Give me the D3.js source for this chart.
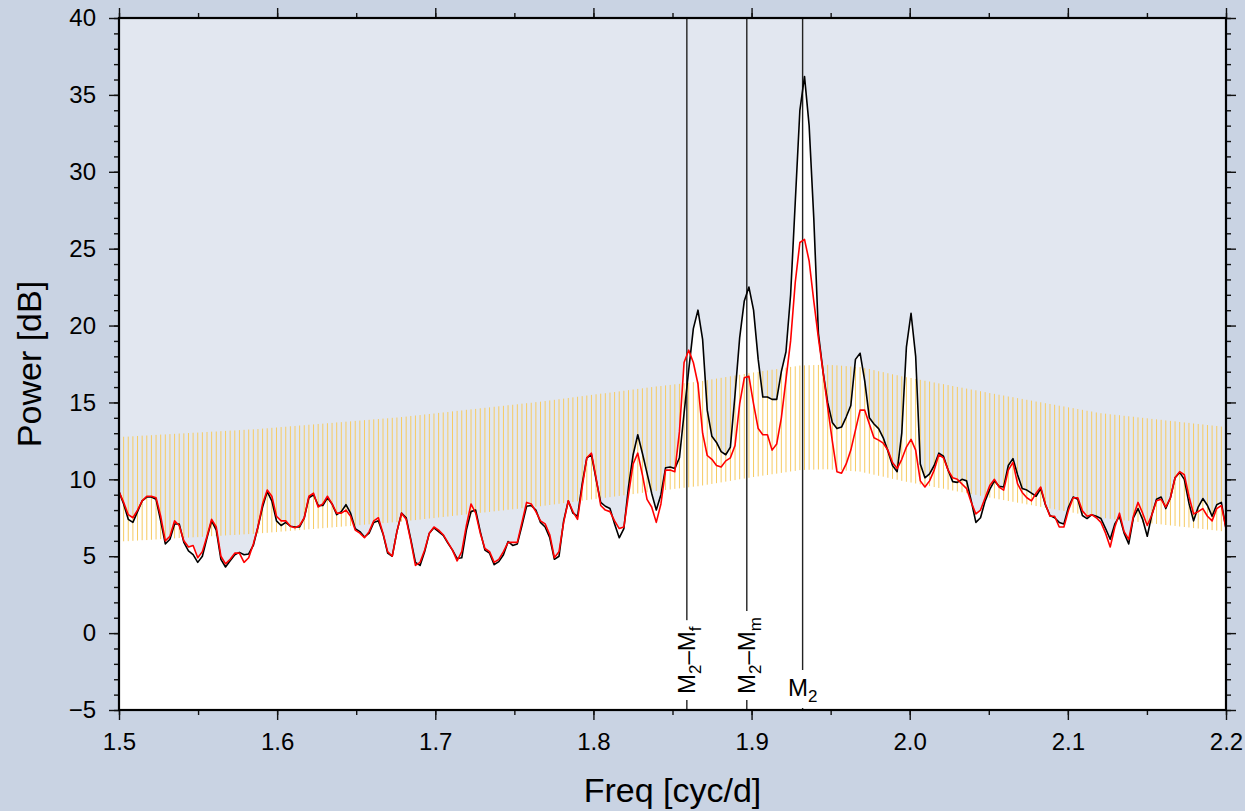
<!DOCTYPE html>
<html><head><meta charset="utf-8">
<script src="https://cdn.jsdelivr.net/npm/d3@7"></script>
<style>
html,body{margin:0;padding:0;background:#c9d3e3;}
svg{display:block;font-family:"Liberation Sans",Arial,Helvetica,sans-serif;}
</style>
</head><body>
<svg id="chart" width="1245" height="811"></svg>
<script>
// ---------------- data ----------------
const freqStart = 1.5, freqEnd = 2.2;   // frequency grid (cyc/d), evenly spaced samples
const powerBlack = [
9.2,8.4,7.4,7.2,7.9,8.6,8.85,8.85,8.7,7.3,
5.8,6.1,7.1,7.1,5.9,5.35,5.1,4.6,5.0,6.2,
7.3,6.7,4.8,4.3,4.7,5.1,5.25,5.1,5.15,5.7,
6.9,8.2,9.2,8.6,7.3,7.0,7.2,6.95,6.9,6.9,
7.5,8.8,9.0,8.3,8.3,8.8,8.4,7.7,7.9,8.35,
7.8,6.8,6.6,6.25,6.5,7.2,7.3,6.45,5.2,5.0,
6.6,7.8,7.5,6.1,4.6,4.4,5.3,6.5,6.85,6.6,
6.35,5.85,5.4,4.85,4.9,6.7,7.9,8.0,6.6,5.4,
5.2,4.45,4.65,5.1,5.95,5.7,5.8,7.0,8.25,8.3,
8.0,7.2,6.9,6.2,4.8,5.0,7.3,8.6,7.8,7.6,
9.7,11.4,11.6,10.0,8.5,8.25,8.1,7.1,6.2,6.8,
9.5,11.6,12.9,11.7,10.4,9.1,8.0,9.0,10.75,10.8,
10.7,11.4,14.3,17.1,19.8,21.0,19.1,14.5,12.8,12.4,
11.8,11.6,12.1,15.5,19.2,21.6,22.5,21.0,17.8,15.35,
15.35,15.2,15.2,17.0,18.3,22.0,28.0,34.0,36.2,33.0,
27.0,19.5,17.0,15.0,13.7,13.3,13.4,14.05,14.8,17.8,
18.2,16.4,14.0,13.6,13.3,12.7,11.85,10.9,10.5,13.0,
18.6,20.8,18.0,11.0,10.1,10.35,10.9,11.7,11.5,10.6,
9.85,9.8,10.0,9.9,8.6,7.2,7.5,8.6,9.35,9.9,
9.55,9.5,10.9,11.35,10.3,9.4,9.3,9.1,8.9,9.4,
8.35,7.65,7.5,7.2,7.1,8.2,8.85,8.7,7.65,7.45,
7.7,7.6,7.45,6.8,6.1,7.1,7.6,6.5,5.8,7.5,
8.1,7.4,6.3,7.7,8.7,8.85,8.1,8.8,10.1,10.45,
10.0,8.45,7.3,8.2,8.75,8.3,7.6,8.35,8.5,6.8
];
const powerRed = [
9.2,8.5,7.7,7.5,8.0,8.6,8.9,8.9,8.8,7.6,
6.0,6.3,7.3,7.0,6.0,5.6,5.7,4.9,5.3,6.3,
7.4,6.9,5.0,4.5,4.8,5.2,5.2,4.6,4.9,5.8,
6.9,8.4,9.3,8.9,7.6,7.3,7.3,6.95,6.85,7.0,
7.5,8.9,9.1,8.2,8.4,8.9,8.4,7.8,7.8,8.0,
7.6,6.7,6.5,6.2,6.6,7.3,7.5,6.5,5.3,5.0,
6.6,7.8,7.4,6.0,4.4,4.6,5.4,6.5,6.9,6.7,
6.4,5.9,5.4,4.7,5.3,7.0,8.4,7.8,6.5,5.5,
5.3,4.6,4.8,5.3,5.9,5.9,5.9,7.2,8.5,8.4,
7.9,7.3,7.1,6.4,4.9,5.3,7.2,8.6,7.9,7.4,
9.5,11.4,11.7,10.1,8.3,8.0,7.9,7.3,6.8,6.9,
9.0,11.0,11.7,10.3,8.7,8.2,7.2,8.4,10.6,10.6,
10.5,13.1,17.6,18.4,17.6,16.2,13.0,11.55,11.3,10.9,
10.8,11.2,11.4,12.2,14.9,16.6,16.7,14.9,13.3,12.9,
12.9,11.9,12.3,14.0,16.5,19.0,22.8,25.4,25.6,24.2,
21.6,19.2,17.0,14.7,12.5,10.5,10.4,11.0,11.9,13.2,
14.5,14.5,13.6,12.7,12.55,12.35,11.9,11.1,10.7,11.3,
12.1,12.6,11.9,9.9,9.5,9.9,10.6,11.6,11.4,10.6,
10.1,10.0,9.7,9.4,8.5,7.75,8.0,8.8,9.6,10.0,
9.5,9.3,10.6,11.1,9.7,9.15,8.8,8.6,9.1,9.5,
8.4,7.6,7.6,6.9,6.9,8.0,8.8,8.8,7.95,7.6,
7.7,7.5,7.2,6.5,5.6,6.9,7.8,6.6,6.1,7.6,
8.5,7.8,7.0,7.7,8.6,8.7,8.2,8.8,10.1,10.5,
10.3,8.9,7.75,7.9,8.1,7.6,7.3,8.1,8.3,6.8
];
const bandUpper = [
12.75,12.77,12.78,12.80,12.82,12.84,12.85,12.87,12.89,12.91,
12.92,12.94,12.96,12.98,12.99,13.01,13.03,13.04,13.06,13.08,
13.10,13.11,13.13,13.15,13.17,13.18,13.20,13.22,13.24,13.25,
13.27,13.30,13.32,13.35,13.37,13.40,13.42,13.45,13.47,13.50,
13.52,13.55,13.57,13.60,13.62,13.65,13.67,13.70,13.72,13.75,
13.77,13.80,13.82,13.85,13.87,13.90,13.92,13.95,13.97,14.00,
14.02,14.05,14.08,14.12,14.15,14.18,14.22,14.25,14.28,14.32,
14.35,14.38,14.42,14.45,14.48,14.52,14.55,14.58,14.62,14.65,
14.68,14.72,14.75,14.78,14.82,14.85,14.88,14.92,14.95,14.98,
15.02,15.05,15.09,15.13,15.17,15.21,15.25,15.29,15.33,15.37,
15.41,15.45,15.49,15.53,15.57,15.60,15.64,15.68,15.72,15.76,
15.80,15.84,15.88,15.92,15.96,16.00,16.04,16.07,16.11,16.14,
16.18,16.21,16.25,16.28,16.32,16.35,16.40,16.45,16.50,16.55,
16.60,16.65,16.70,16.75,16.80,16.85,16.90,16.95,16.99,17.04,
17.08,17.13,17.17,17.22,17.26,17.31,17.35,17.40,17.41,17.42,
17.43,17.44,17.45,17.45,17.43,17.41,17.39,17.36,17.34,17.32,
17.30,17.23,17.17,17.10,17.03,16.97,16.90,16.83,16.77,16.70,
16.64,16.59,16.53,16.47,16.41,16.36,16.30,16.24,16.19,16.13,
16.07,16.01,15.96,15.90,15.84,15.79,15.73,15.67,15.61,15.56,
15.50,15.45,15.39,15.34,15.28,15.23,15.17,15.12,15.06,15.01,
14.95,14.90,14.85,14.79,14.74,14.68,14.63,14.57,14.52,14.46,
14.41,14.35,14.30,14.27,14.23,14.20,14.17,14.13,14.10,14.07,
14.03,14.00,13.97,13.93,13.90,13.87,13.83,13.80,13.77,13.73,
13.70,13.67,13.63,13.60,13.57,13.53,13.50,13.47,13.43,13.40
];
const bandLower = [
5.95,5.97,5.98,6.00,6.02,6.04,6.05,6.07,6.09,6.11,
6.12,6.14,6.16,6.18,6.19,6.21,6.23,6.24,6.26,6.28,
6.30,6.31,6.33,6.35,6.37,6.38,6.40,6.42,6.44,6.45,
6.47,6.50,6.52,6.55,6.57,6.60,6.62,6.65,6.67,6.70,
6.72,6.75,6.77,6.80,6.82,6.85,6.87,6.90,6.92,6.95,
6.97,7.00,7.02,7.05,7.07,7.10,7.12,7.15,7.17,7.20,
7.22,7.25,7.28,7.32,7.35,7.38,7.42,7.45,7.48,7.52,
7.55,7.58,7.62,7.65,7.68,7.72,7.75,7.78,7.82,7.85,
7.88,7.92,7.95,7.98,8.02,8.05,8.08,8.12,8.15,8.18,
8.22,8.25,8.29,8.33,8.37,8.41,8.45,8.49,8.53,8.57,
8.61,8.65,8.69,8.73,8.77,8.80,8.84,8.88,8.92,8.96,
9.00,9.04,9.08,9.12,9.16,9.20,9.24,9.27,9.31,9.34,
9.38,9.41,9.45,9.48,9.52,9.55,9.60,9.65,9.70,9.75,
9.80,9.85,9.90,9.95,10.00,10.05,10.10,10.15,10.19,10.24,
10.28,10.33,10.37,10.42,10.46,10.51,10.55,10.60,10.61,10.62,
10.63,10.64,10.65,10.65,10.63,10.61,10.59,10.56,10.54,10.52,
10.50,10.43,10.37,10.30,10.23,10.17,10.10,10.03,9.97,9.90,
9.84,9.79,9.73,9.67,9.61,9.56,9.50,9.44,9.39,9.33,
9.27,9.21,9.16,9.10,9.04,8.99,8.93,8.87,8.81,8.76,
8.70,8.65,8.59,8.54,8.48,8.43,8.37,8.32,8.26,8.21,
8.15,8.10,8.05,7.99,7.94,7.88,7.83,7.77,7.72,7.66,
7.61,7.55,7.50,7.47,7.43,7.40,7.37,7.33,7.30,7.27,
7.23,7.20,7.17,7.13,7.10,7.07,7.03,7.00,6.97,6.93,
6.90,6.87,6.83,6.80,6.77,6.73,6.70,6.67,6.63,6.60
];
const xTickValues = [1.5,1.6,1.7,1.8,1.9,2.0,2.1,2.2];
const xTickLabels = ["1.5","1.6","1.7","1.8","1.9","2.0","2.1","2.2"];
const yTickValues = [-5,0,5,10,15,20,25,30,35,40];
const tideFreqs = [1.8590714, 1.8969820, 1.9322736];        // M2-Mf, M2-Mm, M2
const tideLabels = [
  [["M",0],["2",1],["\u2013M",0],["f",1]],
  [["M",0],["2",1],["\u2013M",0],["m",1]],
  [["M",0],["2",1]]
];
const tideRotated = [true, true, false];
const xTitle = "Freq [cyc/d]";
const yTitle = "Power [dB]";

// ---------------- layout ----------------
const W = 1245, H = 811;
const m = {left:119, right:1226, top:18, bottom:710};
const svg = d3.select("#chart");
const n = powerBlack.length;
const freqs = d3.range(n).map(i => freqStart + i*(freqEnd-freqStart)/(n-1));

const x = d3.scaleLinear().domain([1.5, 2.2]).range([m.left, m.right]);
const y = d3.scaleLinear().domain([-5, 40]).range([m.bottom, m.top]);

svg.append("rect").attr("width",W).attr("height",H).attr("fill","#c9d3e3");
svg.append("defs").append("clipPath").attr("id","clip")
  .append("rect").attr("x",m.left).attr("y",m.top).attr("width",m.right-m.left).attr("height",m.bottom-m.top);

const plot = svg.append("g").attr("clip-path","url(#clip)");
plot.append("rect").attr("x",m.left).attr("y",m.top).attr("width",m.right-m.left).attr("height",m.bottom-m.top)
  .attr("fill","#e2e7f0");

// white area under the spectra
const areaB = d3.area().x((d,i)=>x(freqs[i])).y0(m.bottom).y1(d=>y(d));
plot.append("path").datum(powerBlack).attr("d",areaB).attr("fill","#fff");
plot.append("path").datum(powerRed).attr("d",areaB).attr("fill","#fff");

// confidence band bars
plot.append("g").selectAll("line").data(freqs).join("line")
  .attr("x1",(d)=>x(d)).attr("x2",(d)=>x(d))
  .attr("y1",(d,i)=>y(bandLower[i])).attr("y2",(d,i)=>y(bandUpper[i]))
  .attr("stroke","#f6cb62").attr("stroke-width",1);

// tidal lines
tideFreqs.forEach(f => {
  plot.append("line").attr("x1",x(f)).attr("x2",x(f)).attr("y1",m.top).attr("y2",m.bottom)
    .attr("stroke","#222").attr("stroke-width",1.4);
});

// spectra
const line = d3.line().x((d,i)=>x(freqs[i])).y(d=>y(d));
plot.append("path").datum(powerBlack).attr("d",line).attr("fill","none").attr("stroke","#000").attr("stroke-width",1.6).attr("stroke-linejoin","round");
plot.append("path").datum(powerRed).attr("d",line).attr("fill","none").attr("stroke","#ff0000").attr("stroke-width",1.6).attr("stroke-linejoin","round");

// tidal labels
const labelBase = 694;
tideFreqs.forEach((f,k) => {
  const rot = tideRotated[k];
  const g = svg.append("g").attr("transform", rot ? `translate(${x(f)},${labelBase}) rotate(-90)` : `translate(${x(f)},${labelBase+2})`);
  const rect = g.append("rect").attr("fill","#fff");
  const t = g.append("text").attr("font-size",24).attr("fill","#000")
    .attr("text-anchor", rot ? "start" : "middle")
    .attr("y", rot ? 8.5 : 0);
  let shifted = false;
  tideLabels[k].forEach(([s,sub]) => {
    const ts = t.append("tspan").text(s);
    if (sub && !shifted) { ts.attr("font-size",17).attr("dy",6); shifted = true; }
    else if (!sub && shifted) { ts.attr("dy",-6); shifted = false; }
    else if (sub) ts.attr("font-size",17);
  });
  const bb = t.node().getBBox();
  if (rot) rect.attr("x",bb.x-6).attr("y",bb.y).attr("width",bb.width+12).attr("height",bb.height);
  else rect.attr("x",bb.x).attr("y",bb.y-4).attr("width",bb.width).attr("height",bb.height+6);
});

// axes
function styleAxis(g){
  g.select(".domain").remove();
  g.selectAll(".tick line").attr("stroke","#111").attr("stroke-width",1.4);
  g.selectAll(".tick text").attr("font-size",24).attr("fill","#000").attr("font-family","Liberation Sans, Arial, sans-serif");
}
const xMinor = d3.range(1.5, 2.2001, 0.05);
const yMinor = d3.range(-5, 40.001, 1);
const fmtX = d => xTickLabels[xTickValues.findIndex(v => Math.abs(v-d)<1e-9)];

svg.append("g").attr("transform",`translate(0,${m.bottom})`).call(d3.axisBottom(x).tickValues(xMinor).tickSize(5).tickFormat("")).call(styleAxis);
svg.append("g").attr("transform",`translate(0,${m.bottom})`).call(d3.axisBottom(x).tickValues(xTickValues).tickSize(10).tickPadding(13).tickFormat(fmtX)).call(styleAxis);
svg.append("g").attr("transform",`translate(0,${m.top})`).call(d3.axisTop(x).tickValues(xMinor).tickSize(5).tickFormat("")).call(styleAxis);
svg.append("g").attr("transform",`translate(0,${m.top})`).call(d3.axisTop(x).tickValues(xTickValues).tickSize(10).tickFormat("")).call(styleAxis);
svg.append("g").attr("transform",`translate(${m.left},0)`).call(d3.axisLeft(y).tickValues(yMinor).tickSize(5).tickFormat("")).call(styleAxis);
svg.append("g").attr("transform",`translate(${m.left},0)`).call(d3.axisLeft(y).tickValues(yTickValues).tickSize(10).tickPadding(13).tickFormat(d3.format("d"))).call(styleAxis);
svg.append("g").attr("transform",`translate(${m.right},0)`).call(d3.axisRight(y).tickValues(yMinor).tickSize(5).tickFormat("")).call(styleAxis);
svg.append("g").attr("transform",`translate(${m.right},0)`).call(d3.axisRight(y).tickValues(yTickValues).tickSize(10).tickFormat("")).call(styleAxis);

// frame
svg.append("rect").attr("x",m.left).attr("y",m.top).attr("width",m.right-m.left).attr("height",m.bottom-m.top)
  .attr("fill","none").attr("stroke","#000").attr("stroke-width",2.2);

// titles
svg.append("text").attr("x",(m.left+m.right)/2).attr("y",802).attr("text-anchor","middle")
  .attr("font-size",34).attr("fill","#000").text(xTitle);
svg.append("text").attr("transform",`translate(41,${(m.top+m.bottom)/2}) rotate(-90)`).attr("text-anchor","middle")
  .attr("font-size",34).attr("fill","#000").text(yTitle);
</script>
</body></html>
